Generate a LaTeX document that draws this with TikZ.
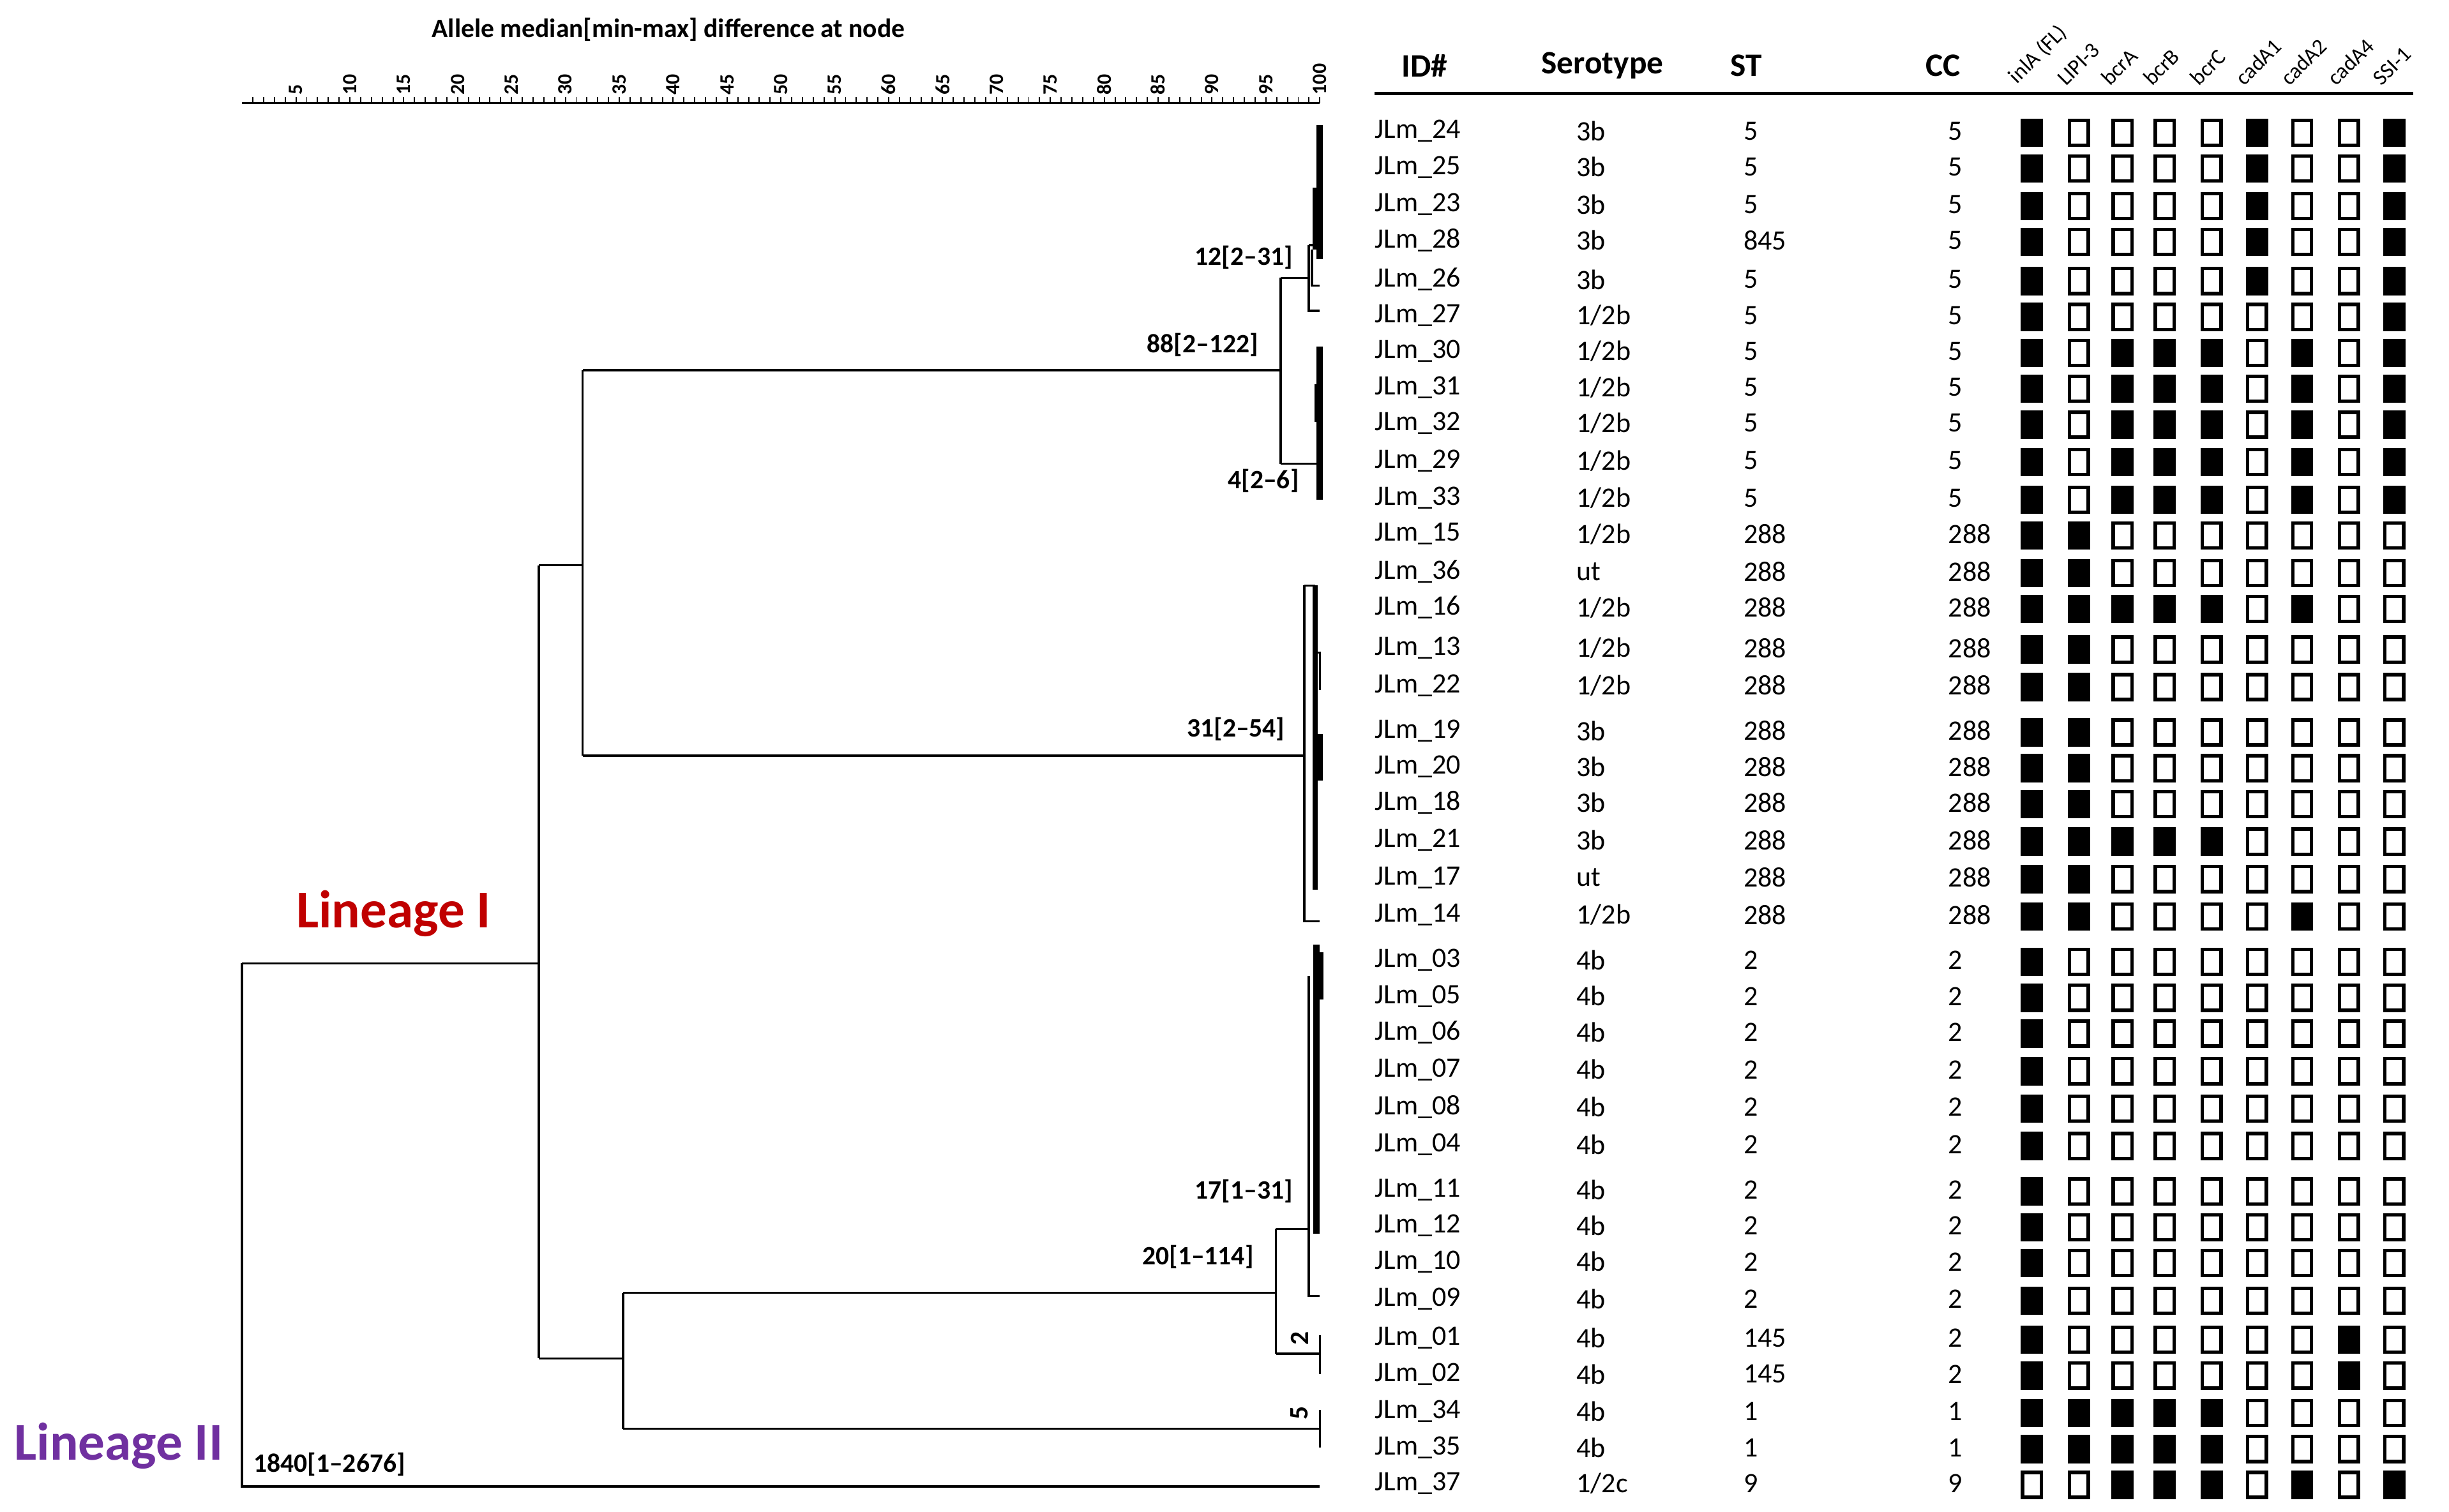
\documentclass[tikz,border=0pt]{standalone}
\usepackage{fontspec}
\setmainfont{Carlito}
\definecolor{linI}{RGB}{192,0,0}
\definecolor{linII}{RGB}{112,48,160}
\newcommand\onebit[3]{\ifnum#1=1 \node[on] at (#2,#3+1) {};\else\node[off] at (#2,#3+1) {};\fi}
\newcommand\dobits[9]{\onebit{#1}{1301}{\rowy}\onebit{#2}{1331}{\rowy}\onebit{#3}{1359}{\rowy}\onebit{#4}{1386}{\rowy}\onebit{#5}{1416}{\rowy}\onebit{#6}{1445}{\rowy}\onebit{#7}{1474}{\rowy}\onebit{#8}{1504}{\rowy}\onebit{#9}{1533}{\rowy}}
\begin{document}
\begin{tikzpicture}[x=0.5pt,y=-0.5pt,
  txt/.style={font=\fontsize{9}{10}\selectfont,anchor=west,inner sep=0},
  hdr/.style={font=\fontsize{10.5}{11}\selectfont\bfseries,inner sep=0},
  gene/.style={font=\fontsize{7}{8}\selectfont,rotate=45,anchor=south west,inner sep=0},
  lab/.style={font=\fontsize{8.5}{9}\selectfont\bfseries,anchor=east,inner sep=0},
  tree/.style={line width=0.7pt},
  pbox/.style={draw,line width=1.1pt,minimum width=6pt,minimum height=8pt,inner sep=0},
  on/.style={pbox,fill=black},off/.style={pbox,fill=white}]
\useasboundingbox (0,0) rectangle (1568,968);
% axis
\node[font=\fontsize{8.5}{9}\selectfont\bfseries] (axt) at (428,19) {Allele median[min-max] difference at node};
\draw[line width=0.6pt] (155,66) -- (845,66);
\foreach \v in {1,...,100}{\draw (155+6.9*\v,66) -- (155+6.9*\v,62);}
\foreach \v in {5,10,...,100}{\node[font=\fontsize{6.5}{7}\selectfont\bfseries,rotate=90,anchor=west,inner sep=0] at (155+6.9*\v,61) {\v};}
% headers
\node[hdr] (h1) at (912,42) {ID\#};
\node[hdr] (h2) at (1026,42) {Serotype};
\node[hdr] (h3) at (1118,42) {ST};
\node[hdr] (h4) at (1244,42) {CC};
\draw[line width=1pt] (880,60) -- (1545,60);
\foreach \g/\x in {inlA (FL)/1301,LIPI-3/1331,bcrA/1359,bcrB/1386,bcrC/1416,cadA1/1445,cadA2/1474,cadA4/1504,SSI-1/1533}
  \node[gene] at (\x-8,56) {\g};
% rows
\foreach \id/\se/\st/\cc/\y/\pa in {
24/3b/5/5/84/100001001,25/3b/5/5/107/100001001,23/3b/5/5/131/100001001,28/3b/845/5/154/100001001,
26/3b/5/5/179/100001001,27/1\slash 2b/5/5/202/100000001,30/1\slash 2b/5/5/225/101110101,31/1\slash 2b/5/5/248/101110101,
32/1\slash 2b/5/5/271/101110101,29/1\slash 2b/5/5/295/101110101,33/1\slash 2b/5/5/319/101110101,
15/1\slash 2b/288/288/342/110000000,36/ut/288/288/366/110000000,16/1\slash 2b/288/288/389/111110100,
13/1\slash 2b/288/288/415/110000000,22/1\slash 2b/288/288/439/110000000,19/3b/288/288/468/110000000,
20/3b/288/288/491/110000000,18/3b/288/288/514/110000000,21/3b/288/288/538/111110000,
17/ut/288/288/562/110000000,14/1\slash 2b/288/288/586/110000100,
03/4b/2/2/615/100000000,05/4b/2/2/638/100000000,06/4b/2/2/661/100000000,07/4b/2/2/685/100000000,
08/4b/2/2/709/100000000,04/4b/2/2/733/100000000,11/4b/2/2/762/100000000,12/4b/2/2/785/100000000,
10/4b/2/2/808/100000000,09/4b/2/2/832/100000000,01/4b/145/2/857/100000010,02/4b/145/2/880/100000010,
34/4b/1/1/904/111110000,35/4b/1/1/927/111110000,37/1\slash 2c/9/9/950/001110101}{
  \node[txt] (id\id) at (880,\y) {JLm\_\id};
  \node[txt] (se\id) at (1009,\y) {\se};
  \node[txt] (st\id) at (1116,\y) {\st};
  \node[txt] (cc\id) at (1247,\y) {\cc};
  \edef\rowy{\y}
  \expandafter\dobits\pa
}
% tree
\coordinate (r) at (155,617);
\draw[tree] (155,617) -- (155,952) -- (845,952);
\draw[tree] (155,617) -- (345,617);
\draw[tree] (345,362) -- (345,870);
\draw[tree] (345,362) -- (373,362); \draw[tree] (373,237) -- (373,484);
\draw[tree] (373,237) -- (820,237); \draw[tree] (820,178) -- (820,297);
\draw[tree] (820,178) -- (838,178); \draw[tree] (838,157) -- (838,199) -- (845,199);
\draw[tree] (838,157) -- (842,157);
\draw[line width=2pt] (845,80) -- (845,166); \draw[line width=2.5pt] (843,120) -- (843,160);
\draw[tree] (840,160) -- (840,183) -- (845,183);
\draw[tree] (820,297) -- (845,297);
\draw[line width=2pt] (845,222) -- (845,320); \draw[line width=2.5pt] (844,246) -- (844,270);
\draw[tree] (373,484) -- (835,484); \draw[tree] (835,375) -- (835,590) -- (845,590);
\draw[tree] (835,375) -- (842,375);
\draw[line width=1.5pt] (842,375) -- (842,570); \draw[tree] (842,418) -- (845,418) -- (845,442);
\draw[line width=2pt] (845,470) -- (845,500);
\draw[tree] (345,870) -- (399,870); \draw[tree] (399,828) -- (399,915);
\draw[tree] (399,828) -- (817,828); \draw[tree] (817,787) -- (817,867);
\draw[tree] (817,787) -- (838,787); \draw[tree] (838,625) -- (838,830) -- (845,830);
\draw[line width=2pt] (843,605) -- (843,790); \draw[line width=2.5pt] (845,610) -- (845,640);
\draw[tree] (817,867) -- (845,867); \draw[tree] (845,855) -- (845,880);
\draw[tree] (399,915) -- (845,915); \draw[tree] (845,903) -- (845,927);
% labels
\node[lab] (n12) at (828,165) {12[2--31]};
\node[lab] (n88) at (806,221) {88[2--122]};
\node[lab] (n4) at (832,308) {4[2--6]};
\node[lab] (n31) at (823,467) {31[2--54]};
\node[lab] (n17) at (828,763) {17[1--31]};
\node[lab] (n20) at (803,805) {20[1--114]};
\node[font=\fontsize{8.5}{9}\selectfont\bfseries,rotate=90,inner sep=0] (n2) at (832,857) {2};
\node[font=\fontsize{8.5}{9}\selectfont\bfseries,rotate=90,inner sep=0] (n5) at (832,905) {5};
\node[font=\fontsize{8.5}{9}\selectfont\bfseries,anchor=west,inner sep=0] (n1840) at (162,938) {1840[1--2676]};
\node[font=\fontsize{17}{19}\selectfont\bfseries,text=linI] (L1) at (252,585) {Lineage I};
\node[font=\fontsize{17}{19}\selectfont\bfseries,text=linII] (L2) at (76,926) {Lineage II};
\end{tikzpicture}
\end{document}
